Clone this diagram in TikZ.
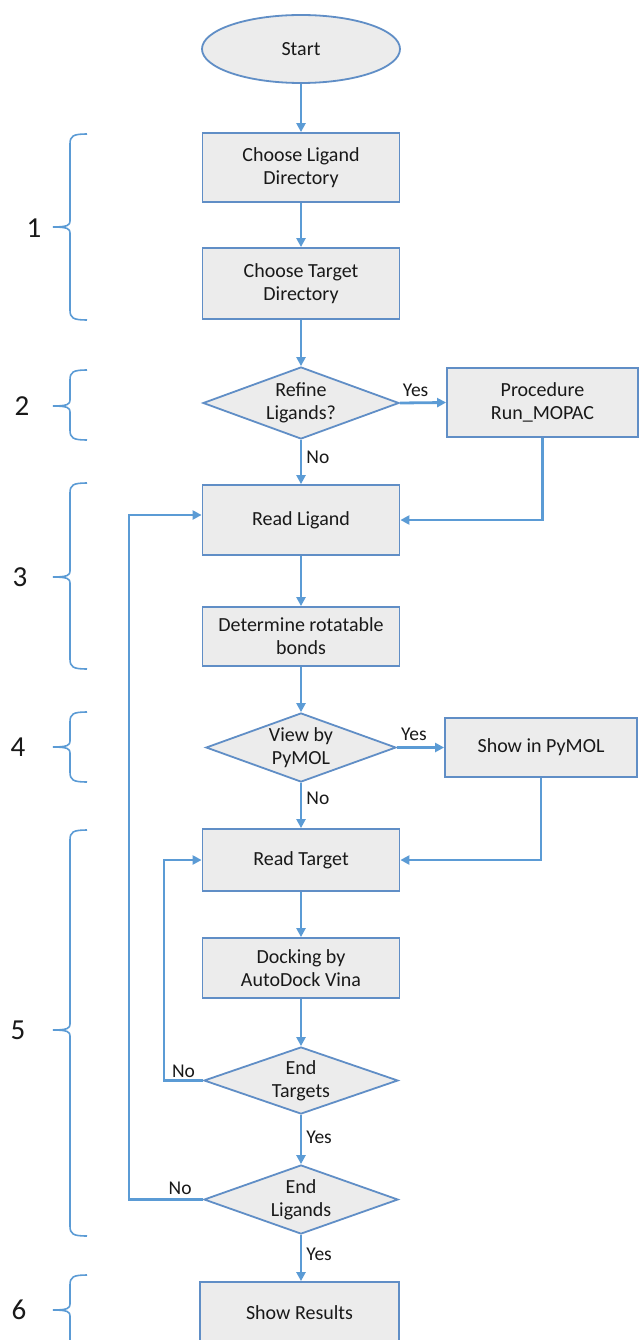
\documentclass[tikz,border=0pt]{standalone}
\usepackage{fontspec}
\setmainfont{Carlito}
\usetikzlibrary{arrows.meta,shapes.geometric,calc}
\definecolor{arrowblue}{RGB}{91,155,213}
\definecolor{edgeblue}{RGB}{96,142,198}
\definecolor{boxfill}{RGB}{236,236,236}
\definecolor{txtc}{RGB}{25,25,25}
\begin{document}
\begin{tikzpicture}[x=1pt,y=-1pt,
  every node/.style={font=\fontsize{20}{23}\selectfont, text=txtc},
  procbox/.style={draw=edgeblue, line width=1.8pt, fill=boxfill, minimum width=197pt, align=center, inner sep=0pt},
  decbox/.style={diamond, draw=edgeblue, line width=1.8pt, fill=boxfill, minimum width=196pt, minimum height=72pt, inner sep=0pt},
  dectext/.style={align=center, inner sep=0pt},
  flow/.style={draw=arrowblue, line width=2.8pt, -{Triangle[length=9pt,width=9pt]}},
  lbl/.style={font=\fontsize{19.5}{22}\selectfont, inner sep=0pt},
  brace/.style={draw=arrowblue, line width=1.6pt},
  secnum/.style={font=\fontsize{29}{31}\selectfont, inner sep=0pt}]
\path[use as bounding box, clip] (0,0) rectangle (640,1340);
\fill[white] (0,0) rectangle (640,1340);

% nodes
\node[draw=edgeblue, line width=1.8pt, fill=boxfill, ellipse, minimum width=198pt, minimum height=68pt, inner sep=0pt] (start) at (301,49) {Start};
\node[procbox, minimum height=69pt] (cld) at (301,167.5) {Choose Ligand\\Directory};
\node[procbox, minimum height=71pt] (ctd) at (301,283.5) {Choose Target\\Directory};
\node[decbox] (ref) at (301,403) {};
\node[dectext] (reft) at (ref) {Refine\\Ligands?};
\node[procbox, minimum width=191pt, minimum height=69pt] (mopac) at (542.5,402.5) {Procedure\\Run\_MOPAC};
\node[procbox, minimum height=70pt] (rl) at (301,520) {Read Ligand};
\node[procbox, minimum height=59pt] (rot) at (301,636.5) {Determine rotatable\\bonds};
\node[decbox, minimum height=69pt, minimum width=190pt] (view) at (301,747.5) {};
\node[dectext] (viewt) at (view) {View by\\PyMOL};
\node[procbox, minimum width=192pt, minimum height=59pt] (pym) at (541,747.5) {Show in PyMOL};
\node[procbox, minimum height=62pt] (rt) at (301,860) {Read Target};
\node[procbox, minimum height=60pt] (dock) at (301,968) {Docking by\\AutoDock Vina};
\node[decbox, minimum height=67pt, minimum width=194pt] (et) at (301,1080.5) {};
\node[dectext] (ett) at (et) {End\\Targets};
\node[decbox, minimum height=69pt, minimum width=194pt] (el) at (301,1199.5) {};
\node[dectext] (elt) at (el) {End\\Ligands};
\node[procbox, minimum width=199pt, minimum height=62pt] (res) at (299.5,1313) {Show Results};

\coordinate (innerx) at (164,860);
\coordinate (outerx) at (129,515);

% connectors
\draw[flow] (start) -- (cld);
\draw[flow] (cld) -- (ctd);
\draw[flow] (ctd) -- (ref);
\draw[flow] (ref.east) -- node[lbl, above=5pt, pos=0.34] {Yes} (mopac.west);
\draw[flow] (ref.south) -- node[lbl, right=4pt, pos=0.4] {No} (rl.north);
\draw[flow] (mopac.south) |- (rl.east);
\draw[flow] (rl) -- (rot);
\draw[flow] (rot) -- (view);
\draw[flow] (view.east) -- node[lbl, above=5pt, pos=0.36] {Yes} (pym.west);
\draw[flow] (view.south) -- node[lbl, right=4pt, pos=0.35] {No} (rt.north);
\draw[flow] (pym.south) |- (rt.east);
\draw[flow] (rt) -- (dock);
\draw[flow] (dock) -- (et);
\draw[flow] (et.south) -- node[lbl, right=4pt, pos=0.45] {Yes} (el.north);
\draw[flow] (el.south) -- node[lbl, right=4pt, pos=0.42] {Yes} (el.south |- res.north);
\draw[flow] (et.west) -- node[lbl, above=1pt, pos=0.5] {No} (et.west -| innerx) -- (innerx) -- (innerx -| rt.west);
\draw[flow] (el.west) -- node[lbl, above=3pt, pos=0.31] {No} (el.west -| outerx) -- (outerx) -- (outerx -| rl.west);

% section braces
\draw[brace] (87,134) .. controls (73,134) and (70,136) .. (70,144) -- (70,221) .. controls (70,225) and (68,227) .. (53,227) .. controls (68,227) and (70,229) .. (70,233) -- (70,310) .. controls (70,318) and (73,320) .. (87,320);
\draw[brace] (87,370) .. controls (73,370) and (70,372) .. (70,380) -- (70,400) .. controls (70,404) and (68,406) .. (53,406) .. controls (68,406) and (70,408) .. (70,412) -- (70,430) .. controls (70,438) and (73,440) .. (87,440);
\draw[brace] (87,483) .. controls (73,483) and (70,485) .. (70,493) -- (70,571) .. controls (70,575) and (68,577) .. (53,577) .. controls (68,577) and (70,579) .. (70,583) -- (70,659) .. controls (70,667) and (73,669) .. (87,669);
\draw[brace] (87,712) .. controls (73,712) and (70,714) .. (70,722) -- (70,741) .. controls (70,745) and (68,747) .. (53,747) .. controls (68,747) and (70,749) .. (70,753) -- (70,772) .. controls (70,780) and (73,782) .. (87,782);
\draw[brace] (87,830) .. controls (73,830) and (70,832) .. (70,840) -- (70,1024) .. controls (70,1028) and (68,1030) .. (53,1030) .. controls (68,1030) and (70,1032) .. (70,1036) -- (70,1226) .. controls (70,1234) and (73,1236) .. (87,1236);
\draw[brace] (87,1275) .. controls (73,1275) and (70,1277) .. (70,1285) -- (70,1304) .. controls (70,1308) and (68,1310) .. (53,1310) .. controls (68,1310) and (70,1312) .. (70,1316) -- (70,1345);

\node[secnum] (s1) at (34,228) {1};
\node[secnum] (s2) at (22,406) {2};
\node[secnum] (s3) at (20,577) {3};
\node[secnum] (s4) at (18,747) {4};
\node[secnum] (s5) at (18,1030) {5};
\node[secnum] (s6) at (19,1310) {6};
\end{tikzpicture}
\end{document}
